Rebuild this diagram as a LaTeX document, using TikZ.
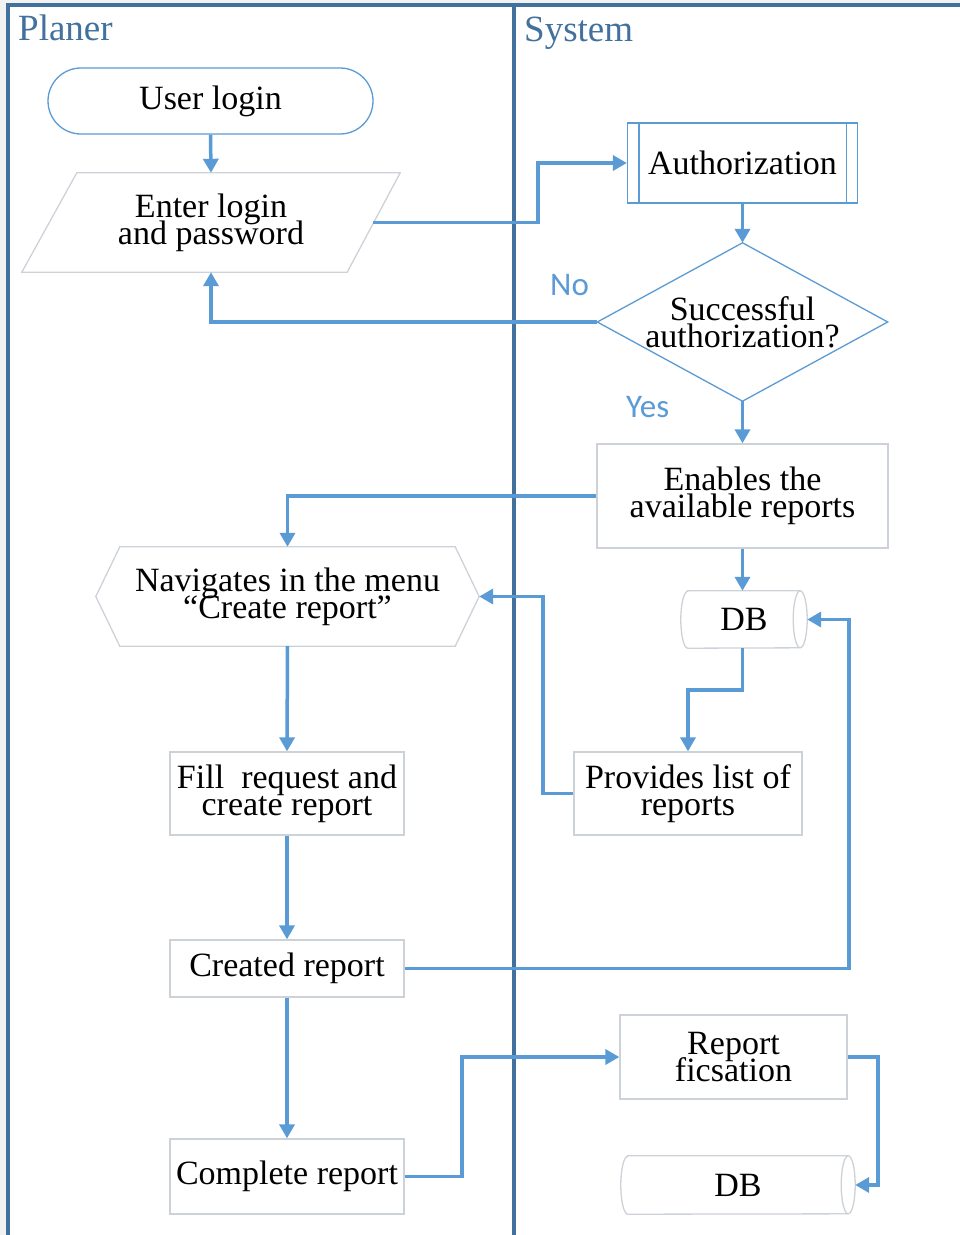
\documentclass[tikz,border=0pt]{standalone}
\usepackage{fontspec}
\setmainfont{Liberation Serif}
\newfontfamily\answerfont{Carlito}
\usetikzlibrary{arrows.meta,calc}
\definecolor{frameblue}{HTML}{41719C}
\definecolor{linkblue}{HTML}{5B9BD5}
\definecolor{boxgrey}{HTML}{CDD2D8}
\definecolor{marginfill}{HTML}{F2F2F2}
% box text: large serif with fixed, tight line spacing
\newcommand\boxtextfont{\fontsize{34}{27}\selectfont\lineskiplimit -60pt\relax}

\begin{document}
\begin{tikzpicture}[x=1pt,y=-1pt,
  every node/.style={font=\boxtextfont, align=center, inner sep=0pt},
  link/.style={draw=linkblue, line width=3.5pt, -{Triangle[length=14pt,width=15pt]}},
  greybox/.style={draw=boxgrey, line width=1.3pt},
  bluebox/.style={draw=linkblue, line width=1.3pt},
  frameline/.style={draw=frameblue, line width=4.5pt},
  lanelabel/.style={text=frameblue, font=\fontsize{37}{40}\selectfont, anchor=base west},
  answer/.style={text=linkblue, font=\answerfont\fontsize{33}{36}\selectfont, anchor=base west},
  area/.style n args={2}{minimum width=#1pt, minimum height=#2pt}
]
\useasboundingbox (0,0) rectangle (960,1235);

% swimlane frame
\fill[marginfill] (0,0) rectangle (960,1235);
\fill[white] (8,5) rectangle (960,1235);
\draw[frameline] (962,5) -- (8,5) -- (8,1237);
\draw[frameline] (514,5) -- (514,1237);
\node[lanelabel] (planer) at (18,40) {Planer};
\node[lanelabel] (system) at (524,41) {System};

% planner lane
\node[bluebox, rounded corners=33pt, area={325}{66}] (login) at (210.5,101) {User login};
\node[area={378}{99}] (enter) at (211,222.5) {Enter login\\and password};
\draw[greybox] (enter.south west) -- ($(enter.north west)+(55,0)$) -- (enter.north east)
  -- ($(enter.south east)+(-53,0)$) -- cycle;
\coordinate (enterR) at ($(enter.east)+(-27,0)$);

\node[area={383}{99}] (nav) at (287.5,596.5) {Navigates in the menu\\“Create report”};
\draw[greybox] (nav.west) -- ($(nav.north west)+(24,0)$) -- ($(nav.north east)+(-24,0)$)
  -- (nav.east) -- ($(nav.south east)+(-24,0)$) -- ($(nav.south west)+(24,0)$) -- cycle;

\node[greybox, area={234}{83}] (fill) at (287,793.5) {Fill~ request and\\create report};
\node[greybox, area={234}{57}] (created) at (287,968.5) {Created report};
\node[greybox, area={234}{75}] (complete) at (287,1176.5) {Complete report};

% system lane
\node[bluebox, area={230}{80}] (auth) at (742.5,163) {Authorization};
\draw[bluebox] ($(auth.north west)+(12,0)$) -- ($(auth.south west)+(12,0)$);
\draw[bluebox] ($(auth.north east)+(-12,0)$) -- ($(auth.south east)+(-12,0)$);

\node[area={290}{158}] (dec) at (742.5,322) {Successful\\authorization?};
\draw[bluebox] (dec.north) -- (dec.east) -- (dec.south) -- (dec.west) -- cycle;

\node[greybox, area={291}{104}] (enab) at (742.5,496) {Enables the\\available reports};

\node[area={126}{57}] (db1) at (744,619.5) {DB};
\draw[greybox] ($(db1.north west)+(7,0)$) -- ($(db1.north east)+(-7,0)$)
  arc[start angle=-90, end angle=90, x radius=7, y radius=28.5]
  -- ($(db1.south west)+(7,0)$)
  arc[start angle=90, end angle=270, x radius=7, y radius=28.5] -- cycle;
\draw[greybox] ($(db1.north east)+(-7,0)$) arc[start angle=270, end angle=90, x radius=7, y radius=28.5];

\node[greybox, area={228}{83}] (prov) at (688,793.5) {Provides list of\\reports};
\node[greybox, area={227}{84}] (fix) at (733.5,1057) {Report\\ficsation};

\node[area={234}{58}] (db2) at (738,1185) {DB};
\draw[greybox] ($(db2.north west)+(7,0)$) -- ($(db2.north east)+(-7,0)$)
  arc[start angle=-90, end angle=90, x radius=7, y radius=29]
  -- ($(db2.south west)+(7,0)$)
  arc[start angle=90, end angle=270, x radius=7, y radius=29] -- cycle;
\draw[greybox] ($(db2.north east)+(-7,0)$) arc[start angle=270, end angle=90, x radius=7, y radius=29];

% decision labels
\node[answer] (no) at (550,295) {No};
\node[answer] (yes) at (626,417) {Yes};

% connectors
\draw[link] (login.south) -- (enter.north);
\draw[link] (enterR) -- (538,222.5) |- (auth.west);
\draw[link] (auth.south) -- (dec.north);
\draw[link] (dec.west) -| (enter.south);
\draw[link] (dec.south) -- (enab.north);
\draw[link] (enab.west) -| (nav.north);
\draw[link] (enab.south) -- (enab.south |- db1.north);
\draw[link] (db1.south -| enab.south) -- (742.5,690) -| (prov.north);
\draw[link] (prov.west) -- (543,793.5) |- (nav.east);
\draw[link] (nav.south) -- (fill.north);
\draw[link] (fill.south) -- (created.north);
\draw[link] (created.east) -- (849,968.5) |- (db1.east);
\draw[link] (created.south) -- (complete.north);
\draw[link] (complete.east) -- (462,1176.5) |- (fix.west);
\draw[link] (fix.east) -- (878,1057) |- (db2.east);
\end{tikzpicture}
\end{document}
